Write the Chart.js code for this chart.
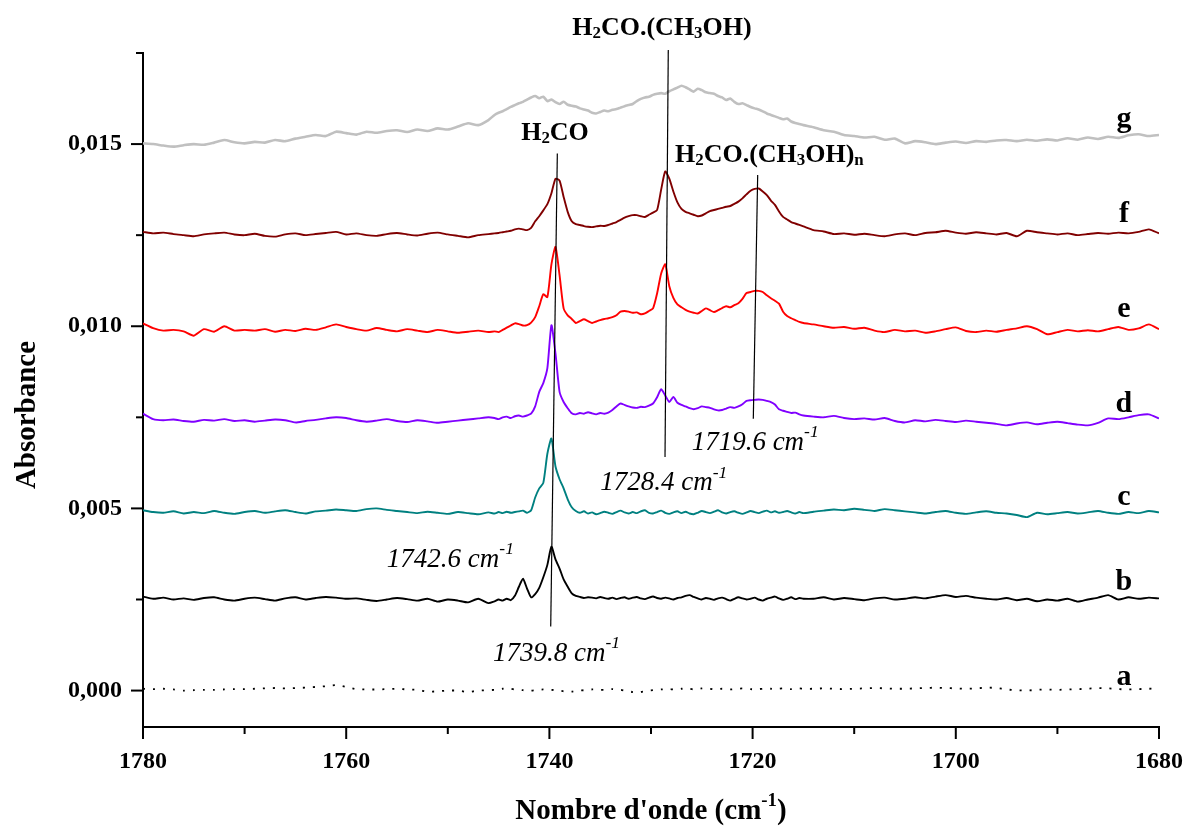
<!DOCTYPE html>
<html>
<head>
<meta charset="utf-8">
<script src="https://cdn.jsdelivr.net/npm/chart.js@4.4.1/dist/chart.umd.min.js"></script>
<style>
  html, body { margin: 0; padding: 0; background: #fff; }
  canvas { display: block; }
</style>
</head>
<body>
<canvas id="spectra" width="1186" height="829"></canvas>
<script>
// wavenumber grid (cm-1): coarse at the edges, finer where the bands are
const wnHigh = [1780, 1779, 1778, 1777, 1776, 1775, 1774, 1773, 1772, 1771,
  1770, 1769, 1768, 1767, 1766, 1765, 1764, 1763, 1762, 1761,
  1760, 1759, 1758, 1757, 1756, 1755, 1754, 1753, 1752, 1751,
  1750, 1749, 1748, 1747, 1746];
const wnBand = [1745.4, 1745.0, 1744.6, 1744.2, 1743.8, 1743.4, 1743.0,
  1742.6, 1742.2, 1741.8, 1741.4, 1741.0, 1740.6, 1740.2,
  1739.8, 1739.4, 1739.0, 1738.6, 1738.2, 1737.8, 1737.4,
  1737.0, 1736.6, 1736.2, 1735.8, 1735.4, 1735.0, 1734.6,
  1734.2, 1733.8, 1733.4, 1733.0, 1732.6, 1732.2, 1731.8,
  1731.4, 1731.0, 1730.6, 1730.2, 1729.8, 1729.4, 1729.0,
  1728.6, 1728.2, 1727.8, 1727.4, 1727.0, 1726.6, 1726.2,
  1725.8, 1725.4, 1725.0, 1724.6, 1724.2, 1723.8, 1723.4,
  1723.0, 1722.6, 1722.2, 1721.8, 1721.4, 1721.0, 1720.6,
  1720.2, 1719.8, 1719.4, 1719.0, 1718.6, 1718.2, 1717.8,
  1717.4, 1717.0, 1716.6, 1716.2, 1715.8, 1715.4, 1715.0];
const wnLow = [1714, 1713, 1712, 1711, 1710, 1709, 1708, 1707, 1706, 1705,
  1704, 1703, 1702, 1701, 1700, 1699, 1698, 1697, 1696, 1695,
  1694, 1693, 1692, 1691, 1690, 1689, 1688, 1687, 1686, 1685,
  1684, 1683, 1682, 1681, 1680];
const wavenumber = [...wnHigh, ...wnBand, ...wnLow];

// absorbance in mAbs (x1e-3), offset spectra as plotted
const specA = [
  0.05, 0.04, 0.05, 0.03, 0.00, 0.01, 0.02, 0.02, 0.03, 0.04,
  0.04, 0.05, 0.06, 0.07, 0.06, 0.07, 0.08, 0.10, 0.12, 0.15,
  0.10, 0.04, 0.03, 0.03, 0.04, 0.05, 0.03, 0.02, -0.03, -0.02,
  0.00, 0.00, -0.04, 0.00, 0.01,
  0.02, 0.03, 0.05, 0.06, 0.05, 0.03, 0.02,
  0.01, 0.00, 0.00, 0.01, 0.02, 0.03, 0.03,
  0.02, 0.01, 0.00, -0.02, -0.03, -0.03, -0.01,
  0.00, 0.01, 0.02, 0.03, 0.03, 0.02, 0.02,
  0.03, 0.04, 0.03, 0.02, 0.00, -0.02, -0.04,
  -0.05, -0.04, -0.02, 0.00, 0.01, 0.02, 0.03,
  0.04, 0.04, 0.03, 0.03, 0.05, 0.07, 0.05,
  0.03, 0.04, 0.06, 0.07, 0.05, 0.03, 0.04,
  0.05, 0.04, 0.03, 0.04, 0.05, 0.06, 0.05,
  0.04, 0.03, 0.04, 0.05, 0.06, 0.05, 0.04,
  0.05, 0.06, 0.05, 0.04, 0.05, 0.06, 0.05,
  0.05, 0.06, 0.05, 0.04, 0.05, 0.06, 0.07, 0.06, 0.05, 0.05,
  0.06, 0.07, 0.08, 0.07, 0.06, 0.05, 0.06, 0.08, 0.07, 0.03,
  0.01, 0.00, 0.02, 0.03, 0.02, 0.03, 0.04, 0.05, 0.07, 0.06,
  0.04, 0.03, 0.04, 0.05, 0.06];
const specB = [
  2.58, 2.52, 2.55, 2.50, 2.53, 2.49, 2.54, 2.56, 2.50, 2.47,
  2.52, 2.55, 2.51, 2.47, 2.53, 2.56, 2.50, 2.54, 2.57, 2.55,
  2.52, 2.53, 2.49, 2.46, 2.50, 2.54, 2.51, 2.47, 2.52, 2.44,
  2.50, 2.47, 2.42, 2.52, 2.40,
  2.45, 2.50, 2.47, 2.52, 2.48, 2.60, 2.85,
  3.07, 2.80, 2.56, 2.65, 2.82, 3.11, 3.45,
  3.95, 3.60, 3.35, 3.05, 2.85, 2.67, 2.60,
  2.57, 2.54, 2.56, 2.55, 2.53, 2.57, 2.54,
  2.52, 2.55, 2.51, 2.54, 2.56, 2.52, 2.55,
  2.57, 2.53, 2.51, 2.55, 2.58, 2.54, 2.52,
  2.55, 2.53, 2.50, 2.54, 2.56, 2.60, 2.62,
  2.57, 2.53, 2.50, 2.54, 2.52, 2.49, 2.53,
  2.55, 2.51, 2.47, 2.52, 2.56, 2.53, 2.50,
  2.52, 2.55, 2.50, 2.47, 2.52, 2.55, 2.58,
  2.53, 2.49, 2.52, 2.56, 2.51, 2.54, 2.52,
  2.52, 2.56, 2.50, 2.54, 2.51, 2.48, 2.53, 2.55, 2.50, 2.52,
  2.56, 2.53, 2.58, 2.62, 2.57, 2.60, 2.55, 2.52, 2.50, 2.54,
  2.48, 2.52, 2.45, 2.50, 2.47, 2.52, 2.44, 2.50, 2.55, 2.62,
  2.50, 2.56, 2.52, 2.55, 2.53];
const specC = [
  4.95, 4.90, 4.88, 4.92, 4.86, 4.90, 4.87, 4.93, 4.88, 4.85,
  4.90, 4.93, 4.88, 4.92, 4.95, 4.90, 4.86, 4.92, 4.94, 4.97,
  4.95, 4.93, 4.98, 5.00, 4.96, 4.93, 4.90, 4.87, 4.91, 4.88,
  4.85, 4.90, 4.87, 4.84, 4.89,
  4.86, 4.90, 4.87, 4.91, 4.88, 4.90, 4.92,
  4.94, 4.88, 4.95, 5.30, 5.55, 5.70, 6.50,
  6.92, 6.15, 5.80, 5.55, 5.25, 5.03, 4.93,
  4.88, 4.92, 4.86, 4.89, 4.84, 4.87, 4.91,
  4.88, 4.85, 4.90, 4.94, 4.89, 4.86, 4.90,
  4.87, 4.92, 4.95, 4.88, 4.86, 4.90, 4.94,
  4.88, 4.85, 4.89, 4.92, 4.87, 4.91, 4.86,
  4.84, 4.88, 4.93, 4.90, 4.87, 4.91, 4.95,
  4.89, 4.86, 4.90, 4.92, 4.88, 4.85, 4.89,
  4.93, 4.90, 4.87, 4.91, 4.94, 4.89, 4.92,
  4.88, 4.90, 4.93, 4.89, 4.86, 4.90, 4.87,
  4.91, 4.94, 4.97, 4.95, 4.99, 4.96, 4.93, 4.98, 4.95, 4.92,
  4.89, 4.86, 4.90, 4.93, 4.88, 4.85, 4.89, 4.92, 4.88, 4.86,
  4.82, 4.76, 4.88, 4.84, 4.87, 4.90, 4.86, 4.89, 4.93, 4.88,
  4.85, 4.90, 4.87, 4.93, 4.89];
const specD = [
  7.60, 7.45, 7.42, 7.44, 7.40, 7.38, 7.43, 7.41, 7.45, 7.40,
  7.42, 7.38, 7.41, 7.44, 7.42, 7.36, 7.40, 7.43, 7.47, 7.50,
  7.48, 7.42, 7.38, 7.41, 7.45, 7.40, 7.37, 7.42, 7.39, 7.35,
  7.38, 7.41, 7.44, 7.47, 7.50,
  7.48, 7.45, 7.50, 7.52, 7.48, 7.53, 7.55,
  7.52, 7.55, 7.60, 7.80, 8.20, 8.44, 8.85,
  10.03, 9.25, 8.20, 7.92, 7.75, 7.61, 7.58,
  7.62, 7.60, 7.64, 7.61, 7.58, 7.62, 7.60,
  7.63, 7.70, 7.80, 7.88, 7.84, 7.80, 7.77,
  7.76, 7.79, 7.78, 7.82, 7.88, 8.05, 8.27,
  8.10, 7.92, 8.06, 7.90, 7.84, 7.80, 7.75,
  7.72, 7.75, 7.80, 7.78, 7.76, 7.72, 7.69,
  7.70, 7.74, 7.78, 7.76, 7.80, 7.86, 7.95,
  7.97, 7.98, 7.99, 7.98, 7.95, 7.92, 7.85,
  7.72, 7.68, 7.65, 7.62, 7.63, 7.58, 7.55,
  7.52, 7.50, 7.54, 7.48, 7.45, 7.47, 7.44, 7.48, 7.40, 7.36,
  7.42, 7.39, 7.43, 7.40, 7.37, 7.41, 7.38, 7.35, 7.32, 7.28,
  7.33, 7.36, 7.31, 7.35, 7.38, 7.34, 7.30, 7.28, 7.35, 7.47,
  7.45, 7.50, 7.56, 7.58, 7.47];
const specE = [
  10.08, 9.95, 9.88, 9.90, 9.86, 9.74, 9.92, 9.85, 10.00, 9.88,
  9.90, 9.88, 9.92, 9.85, 9.90, 9.87, 9.93, 9.90, 9.97, 10.05,
  9.98, 9.92, 9.88, 9.95, 9.90, 9.86, 9.92, 9.88, 9.84, 9.90,
  9.86, 9.82, 9.85, 9.88, 9.84,
  9.86, 9.84, 9.90, 9.96, 10.02, 10.08, 10.06,
  10.02, 10.03, 10.10, 10.25, 10.55, 10.88, 10.80,
  11.70, 12.18, 11.40, 10.49, 10.30, 10.20, 10.09,
  10.14, 10.19, 10.14, 10.09, 10.13, 10.17, 10.20,
  10.22, 10.25, 10.30, 10.40, 10.42, 10.40, 10.37,
  10.38, 10.33, 10.35, 10.42, 10.49, 10.90, 11.45,
  11.70, 11.10, 10.78, 10.60, 10.52, 10.45, 10.40,
  10.37, 10.35, 10.42, 10.49, 10.44, 10.39, 10.44,
  10.50, 10.55, 10.52, 10.58, 10.63, 10.75, 10.91,
  10.94, 10.97, 10.97, 10.94, 10.85, 10.77, 10.70,
  10.62, 10.40, 10.28, 10.22, 10.17, 10.12, 10.09,
  10.05, 10.00, 9.96, 9.98, 9.93, 9.96, 9.88, 9.84, 9.90, 9.86,
  9.88, 9.82, 9.86, 9.92, 9.97, 9.87, 9.84, 9.88, 9.85, 9.90,
  9.94, 10.00, 9.92, 9.78, 9.84, 9.90, 9.86, 9.89, 9.86, 9.92,
  9.98, 9.90, 9.94, 10.05, 9.92];
const specF = [
  12.59, 12.55, 12.57, 12.53, 12.50, 12.47, 12.52, 12.55, 12.57, 12.52,
  12.50, 12.54, 12.48, 12.46, 12.52, 12.55, 12.50, 12.53, 12.56, 12.59,
  12.52, 12.55, 12.50, 12.48, 12.53, 12.56, 12.52, 12.49, 12.54, 12.57,
  12.52, 12.48, 12.44, 12.50, 12.53,
  12.55, 12.56, 12.58, 12.60, 12.62, 12.66, 12.68,
  12.66, 12.64, 12.70, 12.88, 13.02, 13.18, 13.35,
  13.65, 14.05, 14.00, 13.55, 13.14, 12.88, 12.80,
  12.78, 12.75, 12.73, 12.72, 12.74, 12.76, 12.75,
  12.78, 12.82, 12.86, 12.92, 12.98, 13.02, 13.05,
  13.05, 13.02, 13.00, 13.06, 13.12, 13.19, 13.75,
  14.25, 14.05, 13.70, 13.40, 13.22, 13.14, 13.10,
  13.06, 13.02, 13.04, 13.10, 13.16, 13.19, 13.22,
  13.25, 13.28, 13.30, 13.36, 13.42, 13.51, 13.62,
  13.72, 13.77, 13.78, 13.70, 13.60, 13.45, 13.33,
  13.15, 13.00, 12.93, 12.86, 12.82, 12.78, 12.74,
  12.64, 12.60, 12.53, 12.55, 12.51, 12.54, 12.50, 12.47, 12.52, 12.55,
  12.50, 12.56, 12.58, 12.62, 12.57, 12.54, 12.58, 12.55, 12.52, 12.56,
  12.47, 12.62, 12.58, 12.55, 12.52, 12.55, 12.50, 12.53, 12.56, 12.54,
  12.57, 12.55, 12.59, 12.66, 12.55];
const specG = [
  15.02, 15.00, 14.96, 14.93, 14.97, 15.00, 14.98, 15.04, 15.11, 15.05,
  15.02, 15.06, 15.04, 15.11, 15.08, 15.15, 15.20, 15.25, 15.22, 15.34,
  15.30, 15.26, 15.34, 15.31, 15.36, 15.38, 15.33, 15.40, 15.36, 15.43,
  15.40, 15.48, 15.57, 15.52, 15.66,
  15.80, 15.86, 15.90, 15.96, 16.02, 16.07, 16.12,
  16.16, 16.22, 16.28, 16.32, 16.26, 16.30, 16.18,
  16.22, 16.15, 16.10, 16.16, 16.08, 16.05, 16.03,
  15.98, 15.95, 15.92, 15.86, 15.84, 15.88, 15.92,
  15.90, 15.94, 15.96, 16.00, 16.04, 16.07, 16.10,
  16.18, 16.24, 16.28, 16.30, 16.35, 16.38, 16.40,
  16.38, 16.45, 16.50, 16.55, 16.60, 16.56, 16.50,
  16.44, 16.52, 16.48, 16.42, 16.40, 16.38, 16.32,
  16.28, 16.21, 16.25, 16.16, 16.10, 16.12, 16.07,
  16.02, 15.98, 15.95, 15.90, 15.84, 15.80, 15.76,
  15.72, 15.68, 15.70, 15.62, 15.58, 15.55, 15.52,
  15.46, 15.38, 15.34, 15.25, 15.22, 15.18, 15.20, 15.12, 15.15, 15.02,
  15.08, 15.05, 15.00, 15.04, 15.07, 15.03, 15.08, 15.06, 15.10, 15.11,
  15.08, 15.12, 15.09, 15.13, 15.10, 15.16, 15.12, 15.18, 15.14, 15.20,
  15.17, 15.24, 15.27, 15.22, 15.25];

const seriesNames = ['a', 'b', 'c', 'd', 'e', 'f', 'g'];
const seriesValues = [specA, specB, specC, specD, specE, specF, specG];
const seriesColors = ['#000000', '#000000', '#008080', '#8000ff', '#ff0000', '#800000', '#c0c0c0'];

// tick labels
const xMajorTicks = [1780, 1760, 1740, 1720, 1700, 1680];
const yMajorTicks = [0, 0.005, 0.010, 0.015];

// annotations (data coordinates: cm-1, absorbance)
const peakLines = [
  { x1: 1739.22, y1: 0.01474, x2: 1739.87, y2: 0.00176 },
  { x1: 1728.30, y1: 0.01758, x2: 1728.62, y2: 0.00641 },
  { x1: 1719.50, y1: 0.01415, x2: 1719.93, y2: 0.00746 }
];
const speciesLabels = [
  { x: 1739.45, y: 0.01530, align: 'center', parts: [['H', ''], ['2', 'sub'], ['CO', '']] },
  { x: 1728.92, y: 0.01819, align: 'center', parts: [['H', ''], ['2', 'sub'], ['CO.(CH', ''], ['3', 'sub'], ['OH)', '']] },
  { x: 1727.64, y: 0.01470, align: 'left', parts: [['H', ''], ['2', 'sub'], ['CO.(CH', ''], ['3', 'sub'], ['OH)', ''], ['n', 'sub']] }
];
const bandLabels = [
  { x: 1756.0, y: 0.00360, text: '1742.6' },
  { x: 1745.55, y: 0.00102, text: '1739.8' },
  { x: 1735.0, y: 0.00570, text: '1728.4' },
  { x: 1726.0, y: 0.00681, text: '1719.6' }
];
const traceLabelX = 1683.45;
const traceLabelY = [0.00014, 0.00275, 0.00508, 0.00764, 0.01025, 0.01286, 0.01547];

const SERIF = '"Liberation Serif", "Times New Roman", serif';

seriesValues.forEach((s, i) => {
  if (s.length !== wavenumber.length) console.error('length mismatch', seriesNames[i], s.length, wavenumber.length);
});

function isMajor(list, v) {
  return list.some(m => Math.abs(m - v) < 1e-9);
}

function drawRich(ctx, parts, x, y, size, style, align) {
  const fontFor = k => style + ' ' + (k ? size * 0.65 : size) + 'px ' + SERIF;
  let w = 0;
  parts.forEach(([t, k]) => { ctx.font = fontFor(k); w += ctx.measureText(t).width; });
  let cx = align === 'center' ? x - w / 2 : x;
  parts.forEach(([t, k]) => {
    ctx.font = fontFor(k);
    const dy = k === 'sub' ? size * 0.22 : (k === 'sup' ? -size * 0.36 : 0);
    ctx.fillText(t, cx, y + dy);
    cx += ctx.measureText(t).width;
  });
}

const decorations = {
  id: 'decorations',
  afterDraw(chart) {
    const ctx = chart.ctx;
    const xs = chart.scales.x, ys = chart.scales.y;
    ctx.save();
    ctx.strokeStyle = '#000';
    ctx.fillStyle = '#000';

    // tick marks (major longer)
    ctx.lineWidth = 2;
    xs.ticks.forEach(t => {
      const px = xs.getPixelForValue(t.value);
      const len = isMajor(xMajorTicks, t.value) ? 12 : 7;
      ctx.beginPath(); ctx.moveTo(px, xs.top); ctx.lineTo(px, xs.top + len); ctx.stroke();
    });
    ys.ticks.forEach(t => {
      const py = ys.getPixelForValue(t.value);
      const len = isMajor(yMajorTicks, t.value) ? 12 : 7;
      ctx.beginPath(); ctx.moveTo(ys.right, py); ctx.lineTo(ys.right - len, py); ctx.stroke();
    });

    // marker lines through the bands
    ctx.lineWidth = 1.2;
    peakLines.forEach(l => {
      ctx.beginPath();
      ctx.moveTo(xs.getPixelForValue(l.x1), ys.getPixelForValue(l.y1));
      ctx.lineTo(xs.getPixelForValue(l.x2), ys.getPixelForValue(l.y2));
      ctx.stroke();
    });

    ctx.textBaseline = 'middle';
    ctx.textAlign = 'left';
    speciesLabels.forEach(l => {
      drawRich(ctx, l.parts, xs.getPixelForValue(l.x), ys.getPixelForValue(l.y), 26, 'bold', l.align);
    });
    bandLabels.forEach(l => {
      drawRich(ctx, [[l.text + ' cm', ''], ['-1', 'sup']], xs.getPixelForValue(l.x), ys.getPixelForValue(l.y), 27, 'italic', 'left');
    });

    // trace letters
    ctx.textBaseline = 'alphabetic';
    ctx.textAlign = 'center';
    ctx.font = 'bold 30px ' + SERIF;
    seriesNames.forEach((n, i) => {
      ctx.fillText(n, xs.getPixelForValue(traceLabelX), ys.getPixelForValue(traceLabelY[i]));
    });

    // axis titles
    ctx.textAlign = 'left';
    ctx.textBaseline = 'middle';
    drawRich(ctx, [['Nombre d\'onde (cm', ''], ['-1', 'sup'], [')', '']], (xs.left + xs.right) / 2, 812, 29, 'bold', 'center');
    ctx.translate(28, 415);
    ctx.rotate(-Math.PI / 2);
    ctx.textAlign = 'center';
    ctx.font = 'bold 29px ' + SERIF;
    ctx.fillText('Absorbance', 0, 0);
    ctx.restore();
  }
};

const datasets = seriesNames.map((n, i) => ({
  label: n,
  data: wavenumber.map((x, j) => ({ x: x, y: seriesValues[i][j] / 1000 })),
  borderColor: seriesColors[i],
  borderWidth: n === 'g' ? 2.6 : (n === 'a' ? 1.8 : 1.9),
  borderDash: n === 'a' ? [2, 8] : [],
  pointRadius: 0,
  tension: 0.2,
  fill: false
}));

new Chart(document.getElementById('spectra'), {
  type: 'line',
  data: { datasets: datasets },
  options: {
    responsive: false,
    animation: false,
    devicePixelRatio: 1,
    layout: { padding: { top: 53, right: 27, left: 0, bottom: 0 } },
    plugins: { legend: { display: false }, tooltip: { enabled: false } },
    scales: {
      x: {
        type: 'linear',
        reverse: true,
        min: 1680,
        max: 1780,
        grid: { display: true, drawOnChartArea: false, drawTicks: false },
        border: { display: true, color: '#000', width: 2 },
        ticks: {
          stepSize: 10,
          autoSkip: false,
          maxRotation: 0,
          padding: 20,
          color: '#000',
          font: { family: SERIF, size: 24, weight: 'bold' },
          callback: v => isMajor(xMajorTicks, v) ? String(v) : ''
        },
        afterFit: s => { s.height = 102; s.paddingLeft = 0; s.paddingRight = 0; }
      },
      y: {
        type: 'linear',
        min: -0.001,
        max: 0.0175,
        grid: { display: true, drawOnChartArea: false, drawTicks: false },
        border: { display: true, color: '#000', width: 2 },
        ticks: {
          stepSize: 0.0025,
          includeBounds: false,
          autoSkip: false,
          padding: 21,
          color: '#000',
          font: { family: SERIF, size: 24, weight: 'bold' },
          callback: v => isMajor(yMajorTicks, v) ? v.toFixed(3).replace('.', ',') : ''
        },
        afterFit: s => { s.width = 143; s.paddingTop = 0; s.paddingBottom = 0; }
      }
    }
  },
  plugins: [decorations]
});
</script>
</body>
</html>
